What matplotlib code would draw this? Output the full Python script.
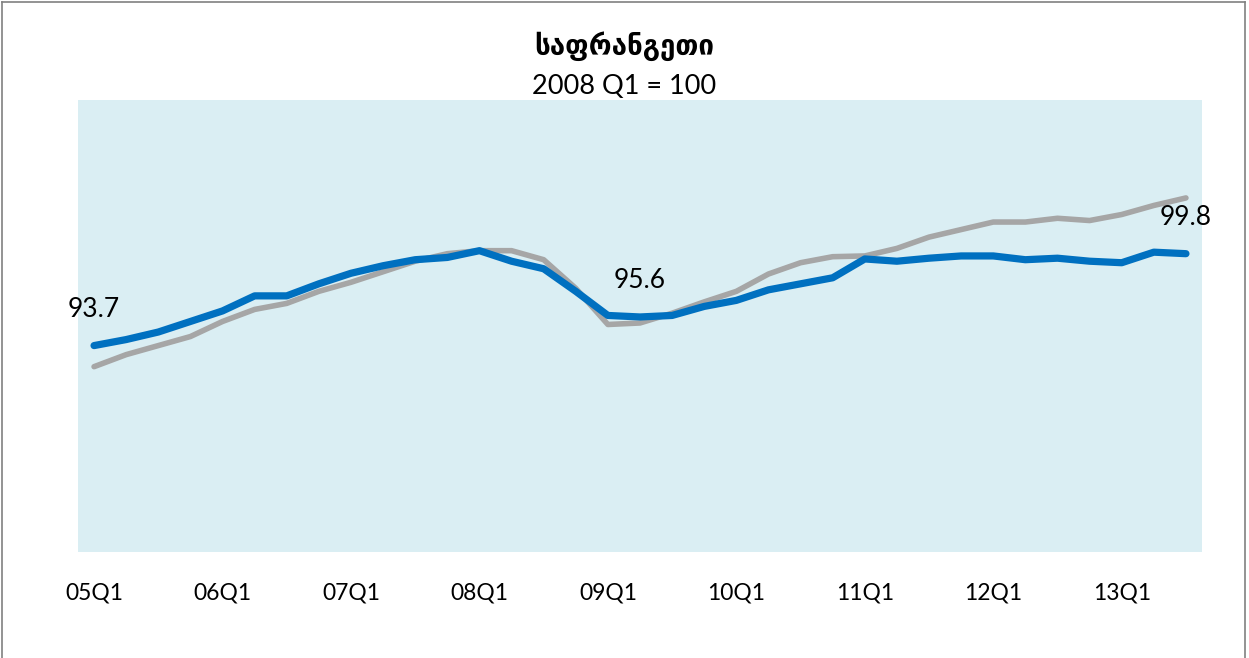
import matplotlib
matplotlib.use("Agg")
import matplotlib.pyplot as plt
from matplotlib.lines import Line2D

# quarters 05Q1 .. 13Q3
quarters = [f"{y:02d}Q{q}" for y in range(5, 14) for q in range(1, 5)][:35]

# index, 2008 Q1 = 100
blue = [93.7, 94.1, 94.6, 95.3, 96.0, 97.0, 97.0, 97.8, 98.5, 99.0, 99.4, 99.55,
        100.0, 99.3, 98.8, 97.3, 95.7, 95.6, 95.7, 96.3, 96.7, 97.4, 97.8, 98.2,
        99.45, 99.3, 99.5, 99.65, 99.65, 99.4, 99.5, 99.3, 99.2, 99.9, 99.8]
gray = [92.3, 93.1, 93.7, 94.3, 95.3, 96.1, 96.5, 97.3, 97.9, 98.6, 99.3, 99.8,
        100.0, 100.0, 99.4, 97.5, 95.1, 95.2, 95.85, 96.6, 97.3, 98.45, 99.2, 99.6,
        99.65, 100.15, 100.9, 101.4, 101.9, 101.9, 102.15, 102.0, 102.4, 103.0, 103.5]

# labelled points
label_idx = [0, 17, 34]

title = "საფრანგეთი"
subtitle = "2008 Q1 = 100"

plt.rcParams['font.family'] = ['Lato', 'DejaVu Sans']

fig = plt.figure(figsize=(12.49, 6.58), dpi=100)
ax = fig.add_axes([78 / 1249, 1 - 552 / 658, (1202 - 78) / 1249, (552 - 100) / 658])
ax.set_facecolor('#DAEEF3')

x = list(range(len(quarters)))
ax.plot(x, gray, color='#A6A6A6', lw=4.0, solid_capstyle='round', solid_joinstyle='round')
ax.plot(x, blue, color='#0070C0', lw=5.2, solid_capstyle='round', solid_joinstyle='round')

for i in label_idx:
    ax.annotate(f"{blue[i]:.1f}", (i, blue[i]), xytext=(0, 26), textcoords='offset points',
                ha='center', va='center', fontsize=19, color='black')

ax.set_xlim(-0.5, len(quarters) - 0.5)
ax.set_ylim(80, 110)
ax.set_xticks(x[::4])
ax.set_xticklabels(quarters[::4], fontsize=16.5)
ax.tick_params(axis='x', length=0, pad=22)
ax.set_yticks([])
for s in ax.spines.values():
    s.set_visible(False)

fig.text(0.5, 1 - 46 / 658, title, ha='center', va='center', fontsize=20, fontweight='bold')
fig.text(0.5, 1 - 86 / 658, subtitle, ha='center', va='center', fontsize=19.5)

# outer chart frame
for xs, ys in [([0.002, 0.002], [0, 0.997]), ([0.002, 0.997], [0.997, 0.997]), ([0.997, 0.997], [0, 0.997])]:
    fig.add_artist(Line2D(xs, ys, color='#808080', lw=1.2, transform=fig.transFigure))

fig.savefig('out.png', dpi=100)
